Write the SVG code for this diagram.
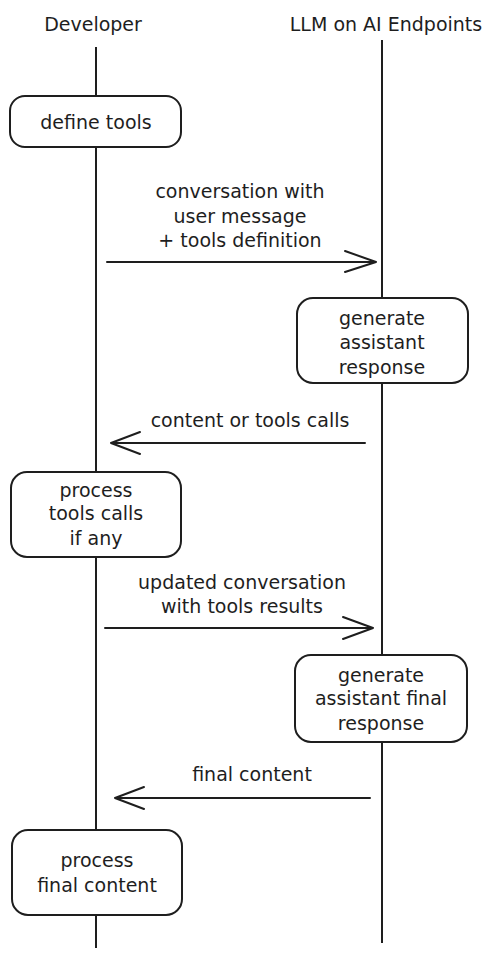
<svg xmlns="http://www.w3.org/2000/svg" width="498" height="958" viewBox="0 0 498 958">
<style>
.t{font-family:"DejaVu Sans","Liberation Sans",sans-serif;font-size:19px;fill:#1e1e1e;text-anchor:middle}
.life{stroke:#1e1e1e;stroke-width:2;fill:none}
.box{fill:#fff;stroke:#1e1e1e;stroke-width:2}
.ar{stroke:#1e1e1e;stroke-width:2;fill:none;stroke-linecap:round;stroke-linejoin:round}
</style>
<rect width="498" height="958" fill="#fff"/>
<g id="lifelines">
<line class="life" x1="96" y1="47" x2="96" y2="948"/>
<line class="life" x1="382" y1="40" x2="382" y2="943"/>
</g>
<g id="developer"><text class="t" x="93" y="31">Developer</text></g>
<g id="llm"><text class="t" x="386" y="31">LLM on AI Endpoints</text></g>
<g id="connectors">
<path class="ar" d="M107 262 H376 M345 251 L376 262 L345 272"/>
<path class="ar" d="M365 443 H111 M140 432 L111 443 L140 454"/>
<path class="ar" d="M105 628 H373 M343 617 L373 628 L343 639"/>
<path class="ar" d="M370 798 H115 M144 787 L115 798 L144 809"/>
</g>
<g id="label1"><text class="t" x="240" y="198">conversation with</text><text class="t" x="240" y="223">user message</text><text class="t" x="240" y="247">+ tools definition</text></g>
<g id="label2"><text class="t" x="250" y="427">content or tools calls</text></g>
<g id="label3"><text class="t" x="242" y="589">updated conversation</text><text class="t" x="242" y="613">with tools results</text></g>
<g id="label4"><text class="t" x="252" y="781">final content</text></g>
<g id="define-tools"><rect class="box" x="10" y="96" width="171" height="51" rx="15"/><text class="t" x="96" y="129">define tools</text></g>
<g id="generate-response"><rect class="box" x="297" y="298" width="171" height="85" rx="16"/><text class="t" x="382" y="325">generate</text><text class="t" x="382" y="349">assistant</text><text class="t" x="382" y="374">response</text></g>
<g id="process-tools"><rect class="box" x="11" y="472" width="170" height="85" rx="16"/><text class="t" x="96" y="497">process</text><text class="t" x="96" y="520">tools calls</text><text class="t" x="96" y="545">if any</text></g>
<g id="generate-final"><rect class="box" x="295" y="655" width="172" height="87" rx="16"/><text class="t" x="381" y="682">generate</text><text class="t" x="381" y="705">assistant final</text><text class="t" x="381" y="730">response</text></g>
<g id="process-final"><rect class="box" x="12" y="830" width="170" height="85" rx="16"/><text class="t" x="97" y="867">process</text><text class="t" x="97" y="892">final content</text></g>
</svg>
